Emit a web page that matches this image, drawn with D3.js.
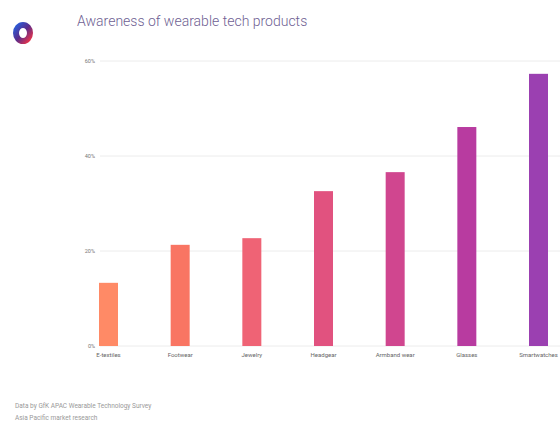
<!DOCTYPE html>
<html><head><meta charset="utf-8">
<script src="https://cdn.jsdelivr.net/npm/d3@7"></script>
<style>body{margin:0;background:#fff;}svg{display:block;}</style>
</head><body>
<script>
const categories = ["E-textiles","Footwear","Jewelry","Headgear","Armband wear","Glasses","Smartwatches"];
const values = [13.3, 21.3, 22.7, 32.6, 36.6, 46.1, 57.3];
const colors = ["#FF8A66","#F97563","#EF6375","#E1527F","#D0468F","#B83BA0","#9B40B1"];
const yTicks = [0, 20, 40, 60];
const title = "Awareness of wearable tech products";
const footer = ["Data by GfK APAC Wearable Technology Survey","Asia Pacific market research"];

const W = 560, H = 427;
const svg = d3.select("body").append("svg").attr("width", W).attr("height", H);

const defs = svg.append("defs");
const lg = defs.append("linearGradient").attr("id","logoG").attr("x1","0").attr("y1","0").attr("x2","1").attr("y2","1");
lg.append("stop").attr("offset","0").attr("stop-color","#2a5bd7");
lg.append("stop").attr("offset","0.5").attr("stop-color","#5b2b8a");
lg.append("stop").attr("offset","1").attr("stop-color","#e8334a");
svg.append("ellipse").attr("cx",23).attr("cy",33).attr("rx",7).attr("ry",8)
  .attr("fill","none").attr("stroke","url(#logoG)").attr("stroke-width",6);

svg.append("text").attr("x",77).attr("y",26).text(title)
  .attr("font-family","Roboto, sans-serif").attr("font-size",14).attr("font-weight",300).attr("fill","#6f5f93");

const y = d3.scaleLinear().domain([0,60]).range([346,61]);
const x = d3.scaleBand().domain(categories).range([99, 548]).paddingInner(0.735).paddingOuter(0);

const grid = svg.append("g");
grid.selectAll("line").data(yTicks).join("line")
  .attr("x1",100).attr("x2",W).attr("y1",d=>y(d)).attr("y2",d=>y(d))
  .attr("stroke","#ececec").attr("stroke-width",1);
grid.selectAll("text").data(yTicks).join("text")
  .attr("x",95).attr("y",d=>y(d)+2).attr("text-anchor","end")
  .attr("font-family","Roboto, sans-serif").attr("font-size",5.5).attr("fill","#777")
  .text(d=>d+"%");

svg.append("g").selectAll("rect").data(values).join("rect")
  .attr("x",(d,i)=>x(categories[i])).attr("width",x.bandwidth())
  .attr("y",d=>y(d)).attr("height",d=>y(0)-y(d))
  .attr("fill",(d,i)=>colors[i]);

svg.append("g").selectAll("text").data(categories).join("text")
  .attr("x",d=>x(d)+x.bandwidth()/2).attr("y",357).attr("text-anchor","middle")
  .attr("font-family","Roboto, sans-serif").attr("font-size",6).attr("fill","#666")
  .text(d=>d);

svg.append("g").selectAll("text").data(footer).join("text")
  .attr("x",15).attr("y",(d,i)=>408+i*12)
  .attr("font-family","Roboto, sans-serif").attr("font-size",6.5).attr("fill","#999")
  .text(d=>d);
</script>
</body></html>
